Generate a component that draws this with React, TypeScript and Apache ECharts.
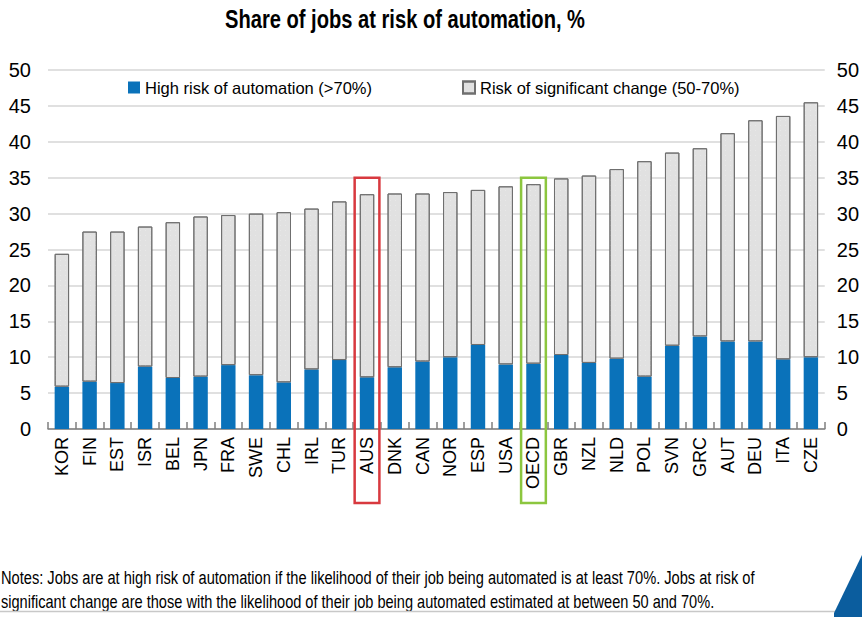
import React, { useEffect, useRef } from "react";
import * as echarts from "echarts";

const categories = [
  "KOR", "FIN", "EST", "ISR", "BEL", "JPN", "FRA", "SWE", "CHL", "IRL", "TUR", "AUS", "DNK", "CAN",
  "NOR", "ESP", "USA", "OECD", "GBR", "NZL", "NLD", "POL", "SVN", "GRC", "AUT", "DEU", "ITA", "CZE",
];
const highRisk = [
  5.9, 6.6, 6.4, 8.7, 7.1, 7.3, 8.9, 7.5, 6.5, 8.3, 9.6, 7.2, 8.6, 9.4,
  10.0, 11.7, 9.0, 9.1, 10.3, 9.2, 9.8, 7.3, 11.6, 12.9, 12.2, 12.2, 9.7, 10.0,
];
const significantChange = [
  18.5, 20.9, 21.1, 19.5, 21.7, 22.3, 20.9, 22.5, 23.7, 22.4, 22.1, 25.5, 24.2, 23.4,
  23.0, 21.6, 24.8, 25.0, 24.6, 26.1, 26.4, 30.0, 26.9, 26.2, 29.0, 30.8, 33.9, 35.5,
];
const seriesNames = ["High risk of automation (>70%)", "Risk of significant change (50-70%)"];
const yTicks = { min: 0, max: 50, interval: 5 };
const highlights = [
  { category: "AUS", color: "#d8393f", top: 35 },
  { category: "OECD", color: "#8cc63f", top: 35 },
];
const titleText = "Share of jobs at risk of automation, %";
const notesLines = [
  "Notes: Jobs are at high risk of automation if the likelihood of their job being automated is at least 70%. Jobs at risk of",
  "significant change are those with the likelihood of their job being automated estimated at between 50 and 70%.",
];

const SANS = "'Liberation Sans', Arial, sans-serif";

function measure(text: string, font: string): number {
  const cv = document.createElement("canvas");
  const ctx = cv.getContext("2d");
  if (!ctx) return text.length * 8;
  ctx.font = font;
  return ctx.measureText(text).width;
}

export default function App() {
  const ref = useRef<HTMLDivElement>(null);

  useEffect(() => {
    if (!ref.current) return;
    const chart = echarts.init(ref.current, undefined, { renderer: "svg" });

    const titleFont = `bold 25px ${SANS}`;
    const titleScale = 360 / measure(titleText, titleFont);
    const notesFont = `18px ${SANS}`;
    const notesTargets = [754, 714];

    const baseGraphic: any[] = [
      {
        type: "text",
        x: 405,
        y: 7,
        scaleX: titleScale,
        style: {
          text: titleText,
          font: titleFont,
          fill: "#000",
          textAlign: "center",
          textVerticalAlign: "top",
        },
      },
      ...notesLines.map((t, i) => ({
        type: "text",
        x: 1,
        y: 568 + i * 24,
        scaleX: notesTargets[i] / measure(t, notesFont),
        style: {
          text: t,
          font: notesFont,
          fill: "#000",
          textVerticalAlign: "top",
        },
      })),
      {
        type: "line",
        shape: { x1: 0, y1: 611.5, x2: 840, y2: 611.5 },
        style: { stroke: "#c8c8c8", lineWidth: 1.5 },
      },
      {
        type: "polygon",
        shape: { points: [[862, 555], [862, 617], [834, 617], [834, 613]] },
        style: { fill: "#0b5d9e" },
      },
    ];

    const yAxisCommon = {
      type: "value",
      min: yTicks.min,
      max: yTicks.max,
      interval: yTicks.interval,
      axisLine: { show: false },
      axisTick: { show: false },
      axisLabel: { fontSize: 20, color: "#000", fontFamily: SANS },
    };

    const legendCommon = {
      top: 74,
      icon: "rect",
      itemWidth: 12,
      itemHeight: 12,
      textStyle: { fontSize: 16.5, color: "#000", fontFamily: SANS },
    };

    const option: any = {
      animation: false,
      backgroundColor: "#fff",
      grid: { left: 48, right: 36, top: 70, bottom: 188, containLabel: false },
      legend: [
        { ...legendCommon, data: [seriesNames[0]], left: 123 },
        { ...legendCommon, data: [seriesNames[1]], left: 457 },
      ],
      xAxis: {
        type: "category",
        data: categories,
        axisLine: { show: true, lineStyle: { color: "#7f7f7f", width: 1.5 } },
        axisTick: { show: true, inside: true, length: 7, interval: 0, lineStyle: { color: "#7f7f7f", width: 1.5 } },
        axisLabel: { interval: 0, rotate: 90, fontSize: 18, color: "#000", fontFamily: SANS, margin: 8 },
        splitLine: { show: false },
      },
      yAxis: [
        {
          ...yAxisCommon,
          position: "left",
          axisLabel: { ...yAxisCommon.axisLabel, margin: 17 },
          splitLine: { show: true, lineStyle: { color: "#d6d6d6", width: 1.5 } },
        },
        {
          ...yAxisCommon,
          position: "right",
          axisLabel: { ...yAxisCommon.axisLabel, margin: 12 },
          splitLine: { show: false },
        },
      ],
      series: [
        {
          name: seriesNames[0],
          type: "bar",
          stack: "total",
          data: highRisk,
          barWidth: "52%",
          itemStyle: { color: "#0a72ba" },
        },
        {
          name: seriesNames[1],
          type: "bar",
          stack: "total",
          data: significantChange,
          barWidth: "52%",
          itemStyle: {
            color: "#e1e1e1",
            borderColor: "#6f6f6f",
            borderWidth: 1,
            decal: {
              symbol: "rect",
              symbolSize: 0.6,
              color: "rgba(255,255,255,0.75)",
              dashArrayX: [1, 4],
              dashArrayY: [1, 4],
              rotation: 0,
            },
          },
        },
      ],
      graphic: baseGraphic,
    };

    chart.setOption(option);

    const c0 = chart.convertToPixel({ xAxisIndex: 0 }, categories[0]) as number;
    const c1 = chart.convertToPixel({ xAxisIndex: 0 }, categories[1]) as number;
    const band = c1 - c0;
    const boxes = highlights.map((h) => {
      const cx = chart.convertToPixel({ xAxisIndex: 0 }, h.category) as number;
      const ty = chart.convertToPixel({ yAxisIndex: 0 }, h.top) as number;
      return {
        type: "rect",
        shape: { x: cx - band / 2 + 1.5, y: ty, width: band - 3, height: 503 - ty },
        style: { fill: "none", stroke: h.color, lineWidth: 2.5 },
        z: 100,
      };
    });
    chart.setOption({ graphic: [...baseGraphic, ...boxes] }, { replaceMerge: ["graphic"] });

    return () => chart.dispose();
  }, []);

  return (
    <div
      ref={ref}
      style={{ position: "absolute", left: 0, top: 0, width: 862, height: 617, background: "#fff" }}
    />
  );
}
